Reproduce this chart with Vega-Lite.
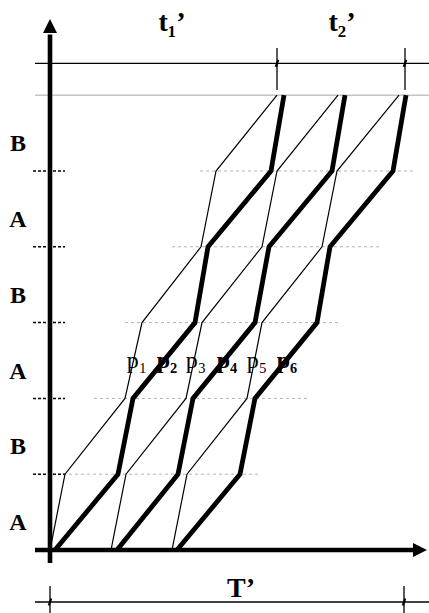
{
  "$schema": "https://vega.github.io/schema/vega-lite/v6.json",
  "width": 429,
  "height": 613,
  "autosize": {"type": "none"},
  "padding": 0,
  "background": "white",
  "config": {"view": {"stroke": null}},
  "datasets": {
    "paths": [
      {"p": "p1", "w": "thin", "level": 0, "t": 0}, {"p": "p1", "w": "thin", "level": 1, "t": 15}, {"p": "p1", "w": "thin", "level": 2, "t": 75}, {"p": "p1", "w": "thin", "level": 3, "t": 92}, {"p": "p1", "w": "thin", "level": 4, "t": 151}, {"p": "p1", "w": "thin", "level": 5, "t": 166}, {"p": "p1", "w": "thin", "level": 6, "t": 227},
      {"p": "p2", "w": "thick", "level": 0, "t": 5}, {"p": "p2", "w": "thick", "level": 1, "t": 68}, {"p": "p2", "w": "thick", "level": 2, "t": 83}, {"p": "p2", "w": "thick", "level": 3, "t": 145}, {"p": "p2", "w": "thick", "level": 4, "t": 158}, {"p": "p2", "w": "thick", "level": 5, "t": 221}, {"p": "p2", "w": "thick", "level": 6, "t": 234},
      {"p": "p3", "w": "thin", "level": 0, "t": 61}, {"p": "p3", "w": "thin", "level": 1, "t": 76}, {"p": "p3", "w": "thin", "level": 2, "t": 136}, {"p": "p3", "w": "thin", "level": 3, "t": 152}, {"p": "p3", "w": "thin", "level": 4, "t": 212}, {"p": "p3", "w": "thin", "level": 5, "t": 227}, {"p": "p3", "w": "thin", "level": 6, "t": 288},
      {"p": "p4", "w": "thick", "level": 0, "t": 67}, {"p": "p4", "w": "thick", "level": 1, "t": 128}, {"p": "p4", "w": "thick", "level": 2, "t": 143}, {"p": "p4", "w": "thick", "level": 3, "t": 205}, {"p": "p4", "w": "thick", "level": 4, "t": 219}, {"p": "p4", "w": "thick", "level": 5, "t": 282}, {"p": "p4", "w": "thick", "level": 6, "t": 295},
      {"p": "p5", "w": "thin", "level": 0, "t": 122}, {"p": "p5", "w": "thin", "level": 1, "t": 137}, {"p": "p5", "w": "thin", "level": 2, "t": 197}, {"p": "p5", "w": "thin", "level": 3, "t": 212}, {"p": "p5", "w": "thin", "level": 4, "t": 272}, {"p": "p5", "w": "thin", "level": 5, "t": 287}, {"p": "p5", "w": "thin", "level": 6, "t": 349},
      {"p": "p6", "w": "thick", "level": 0, "t": 127}, {"p": "p6", "w": "thick", "level": 1, "t": 190}, {"p": "p6", "w": "thick", "level": 2, "t": 205}, {"p": "p6", "w": "thick", "level": 3, "t": 267}, {"p": "p6", "w": "thick", "level": 4, "t": 280}, {"p": "p6", "w": "thick", "level": 5, "t": 343}, {"p": "p6", "w": "thick", "level": 6, "t": 356}
    ],
    "levels": [
      {"level": 1, "from": 13, "to": 208},
      {"level": 2, "from": 44, "to": 258},
      {"level": 3, "from": 75, "to": 288},
      {"level": 4, "from": 122, "to": 330},
      {"level": 5, "from": 150, "to": 363}
    ],
    "bands": [
      {"label": "A", "mid": 0.5}, {"label": "B", "mid": 1.5}, {"label": "A", "mid": 2.5},
      {"label": "B", "mid": 3.5}, {"label": "A", "mid": 4.5}, {"label": "B", "mid": 5.5}
    ],
    "plabels": [
      {"label": "p₁", "t": 87, "bold": false}, {"label": "p₂", "t": 117, "bold": true},
      {"label": "p₃", "t": 146, "bold": false}, {"label": "p₄", "t": 177, "bold": true},
      {"label": "p₅", "t": 207, "bold": false}, {"label": "p₆", "t": 237, "bold": true}
    ],
    "spans": [
      {"label": "t₁’", "t": 122, "level": 6.85},
      {"label": "t₂’", "t": 292, "level": 6.85},
      {"label": "T’", "t": 191, "level": -0.62}
    ],
    "dimlines": [
      {"name": "top", "level": 6.42, "from": -15, "to": 379},
      {"name": "bottom", "level": -0.686, "from": -15, "to": 379}
    ],
    "ticks": [
      {"t": 227, "lo": 6.069, "hi": 6.623},
      {"t": 355, "lo": 6.069, "hi": 6.623},
      {"t": 0, "lo": -0.831, "hi": -0.475},
      {"t": 354, "lo": -0.831, "hi": -0.475}
    ],
    "slashes": [
      {"t": 0, "level": 6.42}, {"t": 227, "level": 6.42}, {"t": 355, "level": 6.42},
      {"t": 0, "level": -0.686}, {"t": 354, "level": -0.686}
    ],
    "axes": [
      {"axis": "x", "t1": -15, "t2": 363, "l1": 0, "l2": 0},
      {"axis": "y", "t1": 0, "t2": 0, "l1": -0.17, "l2": 6.8}
    ],
    "arrows": [
      {"axis": "x", "t": 370, "level": 0},
      {"axis": "y", "t": 0, "level": 6.913}
    ]
  },
  "layer": [
    {
      "data": {"name": "levels"},
      "mark": {"type": "rule", "color": "#b4b4b4", "strokeWidth": 1, "strokeDash": [3, 3]},
      "encoding": {
        "x": {"field": "from", "type": "quantitative", "scale": {"domain": [-50, 379], "nice": false, "zero": false}, "axis": null},
        "x2": {"field": "to"},
        "y": {"field": "level", "type": "quantitative", "scale": {"domain": [-0.831, 7.256], "nice": false, "zero": false}, "axis": null}
      }
    },
    {
      "data": {"name": "levels"},
      "mark": {"type": "rule", "color": "black", "strokeWidth": 1.5, "strokeDash": [3, 2]},
      "encoding": {
        "x": {"datum": -17, "type": "quantitative", "scale": {"domain": [-50, 379], "nice": false, "zero": false}, "axis": null},
        "x2": {"datum": 15},
        "y": {"field": "level", "type": "quantitative", "scale": {"domain": [-0.831, 7.256], "nice": false, "zero": false}, "axis": null}
      }
    },
    {
      "data": {"values": [{"level": 6, "from": -15, "to": 379}]},
      "mark": {"type": "rule", "color": "#c4c4c4", "strokeWidth": 1.5},
      "encoding": {
        "x": {"field": "from", "type": "quantitative", "scale": {"domain": [-50, 379], "nice": false, "zero": false}, "axis": null},
        "x2": {"field": "to"},
        "y": {"field": "level", "type": "quantitative", "scale": {"domain": [-0.831, 7.256], "nice": false, "zero": false}, "axis": null}
      }
    },
    {
      "data": {"name": "dimlines"},
      "mark": {"type": "rule", "color": "black", "strokeWidth": 1.3},
      "encoding": {
        "x": {"field": "from", "type": "quantitative", "scale": {"domain": [-50, 379], "nice": false, "zero": false}, "axis": null},
        "x2": {"field": "to"},
        "y": {"field": "level", "type": "quantitative", "scale": {"domain": [-0.831, 7.256], "nice": false, "zero": false}, "axis": null}
      }
    },
    {
      "data": {"name": "ticks"},
      "mark": {"type": "rule", "color": "black", "strokeWidth": 1.3},
      "encoding": {
        "x": {"field": "t", "type": "quantitative", "scale": {"domain": [-50, 379], "nice": false, "zero": false}, "axis": null},
        "y": {"field": "lo", "type": "quantitative", "scale": {"domain": [-0.831, 7.256], "nice": false, "zero": false}, "axis": null},
        "y2": {"field": "hi"}
      }
    },
    {
      "data": {"name": "slashes"},
      "mark": {"type": "point", "shape": "M-0.35,1L0.35,-1", "filled": false, "stroke": "black", "strokeWidth": 2.2, "size": 49, "opacity": 1},
      "encoding": {
        "x": {"field": "t", "type": "quantitative", "scale": {"domain": [-50, 379], "nice": false, "zero": false}, "axis": null},
        "y": {"field": "level", "type": "quantitative", "scale": {"domain": [-0.831, 7.256], "nice": false, "zero": false}, "axis": null}
      }
    },
    {
      "data": {"name": "paths"},
      "mark": {"type": "line", "color": "black", "strokeJoin": "miter"},
      "encoding": {
        "x": {"field": "t", "type": "quantitative", "scale": {"domain": [-50, 379], "nice": false, "zero": false}, "axis": null},
        "y": {"field": "level", "type": "quantitative", "scale": {"domain": [-0.831, 7.256], "nice": false, "zero": false}, "axis": null},
        "detail": {"field": "p", "type": "nominal"},
        "order": {"field": "level", "type": "quantitative"},
        "strokeWidth": {"field": "w", "type": "nominal", "scale": {"domain": ["thin", "thick"], "range": [1.2, 4.8]}, "legend": null}
      }
    },
    {
      "data": {"name": "axes"},
      "mark": {"type": "rule", "color": "black", "strokeWidth": 4.6},
      "encoding": {
        "x": {"field": "t1", "type": "quantitative", "scale": {"domain": [-50, 379], "nice": false, "zero": false}, "axis": null},
        "x2": {"field": "t2"},
        "y": {"field": "l1", "type": "quantitative", "scale": {"domain": [-0.831, 7.256], "nice": false, "zero": false}, "axis": null},
        "y2": {"field": "l2"}
      }
    },
    {
      "data": {"name": "arrows"},
      "transform": [{"filter": "datum.axis === 'y'"}],
      "mark": {"type": "point", "shape": "M0,-1L1,1L-1,1Z", "filled": true, "color": "black", "size": 196, "opacity": 1},
      "encoding": {
        "x": {"field": "t", "type": "quantitative", "scale": {"domain": [-50, 379], "nice": false, "zero": false}, "axis": null},
        "y": {"field": "level", "type": "quantitative", "scale": {"domain": [-0.831, 7.256], "nice": false, "zero": false}, "axis": null}
      }
    },
    {
      "data": {"name": "arrows"},
      "transform": [{"filter": "datum.axis === 'x'"}],
      "mark": {"type": "point", "shape": "M1,0L-1,-1L-1,1Z", "filled": true, "color": "black", "size": 196, "opacity": 1},
      "encoding": {
        "x": {"field": "t", "type": "quantitative", "scale": {"domain": [-50, 379], "nice": false, "zero": false}, "axis": null},
        "y": {"field": "level", "type": "quantitative", "scale": {"domain": [-0.831, 7.256], "nice": false, "zero": false}, "axis": null}
      }
    },
    {
      "data": {"name": "bands"},
      "mark": {"type": "text", "font": "Liberation Serif", "fontWeight": "bold", "fontSize": 24, "align": "center", "baseline": "alphabetic", "dy": 18, "color": "black"},
      "encoding": {
        "x": {"datum": -32, "type": "quantitative", "scale": {"domain": [-50, 379], "nice": false, "zero": false}, "axis": null},
        "y": {"field": "mid", "type": "quantitative", "scale": {"domain": [-0.831, 7.256], "nice": false, "zero": false}, "axis": null},
        "text": {"field": "label"}
      }
    },
    {
      "data": {"name": "plabels"},
      "transform": [{"filter": "!datum.bold"}],
      "mark": {"type": "text", "font": "Liberation Serif", "fontWeight": "normal", "fontSize": 24, "align": "center", "baseline": "alphabetic", "dy": 7, "color": "black"},
      "encoding": {
        "x": {"field": "t", "type": "quantitative", "scale": {"domain": [-50, 379], "nice": false, "zero": false}, "axis": null},
        "y": {"datum": 2.5, "type": "quantitative", "scale": {"domain": [-0.831, 7.256], "nice": false, "zero": false}, "axis": null},
        "text": {"field": "label"}
      }
    },
    {
      "data": {"name": "plabels"},
      "transform": [{"filter": "datum.bold"}],
      "mark": {"type": "text", "font": "Liberation Serif", "fontWeight": "bold", "fontSize": 24, "align": "center", "baseline": "alphabetic", "dy": 7, "color": "black"},
      "encoding": {
        "x": {"field": "t", "type": "quantitative", "scale": {"domain": [-50, 379], "nice": false, "zero": false}, "axis": null},
        "y": {"datum": 2.5, "type": "quantitative", "scale": {"domain": [-0.831, 7.256], "nice": false, "zero": false}, "axis": null},
        "text": {"field": "label"}
      }
    },
    {
      "data": {"name": "spans"},
      "mark": {"type": "text", "font": "Liberation Serif", "fontWeight": "bold", "fontSize": 28, "align": "center", "baseline": "alphabetic", "color": "black"},
      "encoding": {
        "x": {"field": "t", "type": "quantitative", "scale": {"domain": [-50, 379], "nice": false, "zero": false}, "axis": null},
        "y": {"field": "level", "type": "quantitative", "scale": {"domain": [-0.831, 7.256], "nice": false, "zero": false}, "axis": null},
        "text": {"field": "label"}
      }
    }
  ]
}
